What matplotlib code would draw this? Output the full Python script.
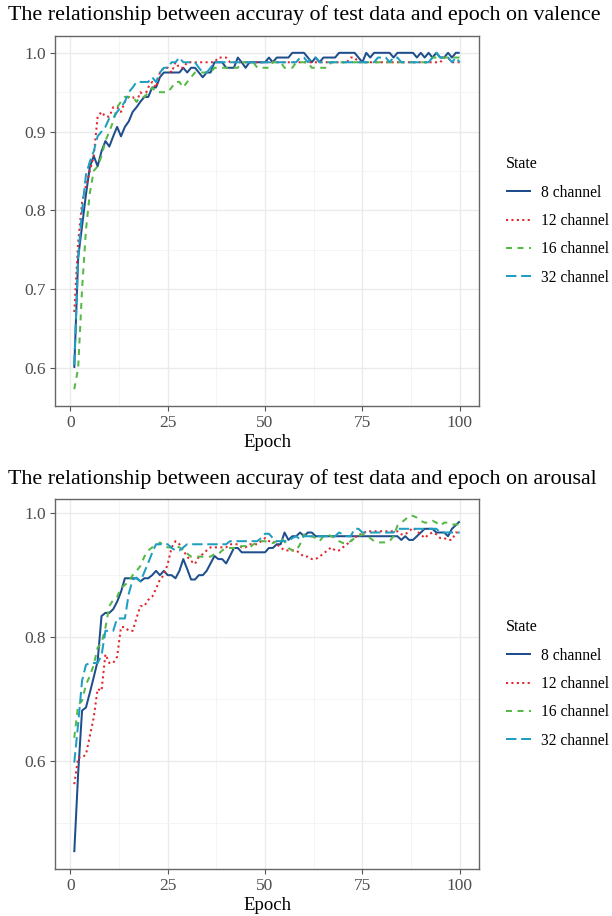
import numpy as np
import matplotlib
matplotlib.use("Agg")
import matplotlib.pyplot as plt
from matplotlib.ticker import MultipleLocator

plt.rcParams['font.family'] = ['Liberation Serif', 'DejaVu Serif']
plt.rcParams['lines.scale_dashes'] = False

epoch = np.arange(1, 101)
states = ['8 channel', '12 channel', '16 channel', '32 channel']

#---- valence accuracy
val_8 = [0.600, 0.740, 0.780, 0.820, 0.855, 0.869, 0.856, 0.875, 0.888, 0.881,
         0.894, 0.906, 0.894, 0.906, 0.913, 0.925, 0.931, 0.938, 0.944, 0.944,
         0.956, 0.956, 0.969, 0.975, 0.975, 0.975, 0.975, 0.975, 0.981, 0.975,
         0.981, 0.981, 0.975, 0.969, 0.975, 0.975, 0.988, 0.988, 0.988, 0.981,
         0.981, 0.981, 0.994, 0.988, 0.981, 0.988, 0.988, 0.988, 0.988, 0.988,
         0.994, 0.988, 0.994, 0.994, 0.994, 0.994, 1.000, 1.000, 1.000, 1.000,
         0.994, 0.988, 0.994, 0.988, 0.994, 0.994, 0.994, 0.994, 1.000, 1.000,
         1.000, 1.000, 1.000, 0.994, 0.988, 1.000, 0.994, 1.000, 1.000, 1.000,
         1.000, 1.000, 0.994, 1.000, 1.000, 1.000, 1.000, 1.000, 0.994, 1.000,
         0.994, 1.000, 0.994, 1.000, 0.994, 0.994, 1.000, 0.994, 1.000, 1.000]
val_12 = [0.671, 0.760, 0.810, 0.831, 0.850, 0.869, 0.919, 0.925, 0.919, 0.919,
          0.931, 0.931, 0.925, 0.938, 0.944, 0.944, 0.938, 0.950, 0.944, 0.956,
          0.963, 0.956, 0.975, 0.981, 0.981, 0.975, 0.988, 0.981, 0.981, 0.988,
          0.988, 0.988, 0.988, 0.988, 0.988, 0.988, 0.988, 0.994, 0.994, 0.994,
          0.988, 0.988, 0.988, 0.988, 0.988, 0.988, 0.988, 0.988, 0.988, 0.988,
          0.988, 0.988, 0.988, 0.988, 0.988, 0.988, 0.988, 0.988, 0.988, 0.988,
          0.988, 0.988, 0.988, 0.988, 0.988, 0.988, 0.988, 0.988, 0.988, 0.988,
          0.988, 0.994, 0.994, 0.988, 0.988, 0.988, 0.988, 0.988, 0.988, 0.988,
          0.988, 0.988, 0.988, 0.988, 0.988, 0.988, 0.988, 0.988, 0.988, 0.988,
          0.988, 0.988, 0.988, 0.988, 0.988, 0.994, 0.994, 0.988, 0.988, 0.988]
val_16 = [0.573, 0.600, 0.700, 0.775, 0.822, 0.850, 0.856, 0.869, 0.888, 0.900,
          0.913, 0.931, 0.938, 0.944, 0.944, 0.944, 0.938, 0.944, 0.944, 0.950,
          0.956, 0.950, 0.950, 0.950, 0.950, 0.956, 0.963, 0.963, 0.956, 0.963,
          0.969, 0.975, 0.975, 0.975, 0.975, 0.975, 0.981, 0.981, 0.981, 0.981,
          0.981, 0.981, 0.981, 0.988, 0.988, 0.988, 0.988, 0.981, 0.981, 0.981,
          0.981, 0.988, 0.988, 0.988, 0.981, 0.981, 0.981, 0.988, 0.988, 0.988,
          0.988, 0.981, 0.981, 0.981, 0.981, 0.981, 0.988, 0.988, 0.988, 0.988,
          0.988, 0.988, 0.988, 0.988, 0.988, 0.988, 0.988, 0.988, 0.988, 0.988,
          0.988, 0.988, 0.988, 0.988, 0.988, 0.988, 0.988, 0.988, 0.988, 0.988,
          0.988, 0.988, 0.994, 0.994, 0.994, 0.994, 0.994, 0.994, 0.994, 0.994]
val_32 = [0.604, 0.740, 0.800, 0.845, 0.862, 0.875, 0.894, 0.900, 0.906, 0.917,
          0.917, 0.925, 0.931, 0.938, 0.950, 0.956, 0.963, 0.963, 0.963, 0.963,
          0.969, 0.963, 0.975, 0.981, 0.981, 0.988, 0.988, 0.994, 0.988, 0.988,
          0.988, 0.988, 0.981, 0.975, 0.975, 0.981, 0.988, 0.988, 0.988, 0.988,
          0.988, 0.988, 0.988, 0.988, 0.988, 0.988, 0.988, 0.988, 0.988, 0.988,
          0.988, 0.988, 0.988, 0.988, 0.988, 0.988, 0.988, 0.988, 0.994, 0.994,
          0.988, 0.994, 0.994, 0.988, 0.988, 0.988, 0.988, 0.988, 0.988, 0.988,
          0.988, 0.988, 0.988, 0.988, 0.988, 0.988, 0.988, 0.988, 0.994, 0.994,
          0.994, 0.988, 0.994, 0.994, 0.988, 0.988, 0.988, 0.988, 0.988, 0.988,
          0.988, 0.988, 0.994, 1.000, 0.994, 0.994, 0.994, 0.988, 0.994, 0.988]

#---- arousal accuracy
aro_8 = [0.452, 0.580, 0.681, 0.686, 0.710, 0.735, 0.761, 0.834, 0.839, 0.839,
         0.845, 0.857, 0.873, 0.895, 0.895, 0.895, 0.895, 0.890, 0.895, 0.895,
         0.900, 0.907, 0.900, 0.907, 0.900, 0.900, 0.895, 0.907, 0.926, 0.910,
         0.893, 0.893, 0.900, 0.900, 0.907, 0.919, 0.931, 0.926, 0.926, 0.919,
         0.931, 0.944, 0.944, 0.937, 0.937, 0.937, 0.937, 0.937, 0.937, 0.937,
         0.944, 0.944, 0.950, 0.950, 0.969, 0.957, 0.963, 0.963, 0.969, 0.963,
         0.969, 0.969, 0.963, 0.963, 0.963, 0.963, 0.963, 0.963, 0.963, 0.963,
         0.963, 0.963, 0.963, 0.963, 0.963, 0.963, 0.963, 0.963, 0.963, 0.963,
         0.963, 0.963, 0.963, 0.963, 0.957, 0.963, 0.957, 0.957, 0.963, 0.969,
         0.975, 0.975, 0.975, 0.969, 0.969, 0.969, 0.963, 0.975, 0.981, 0.987]
aro_12 = [0.562, 0.605, 0.605, 0.610, 0.640, 0.670, 0.716, 0.713, 0.772, 0.758,
          0.758, 0.768, 0.816, 0.816, 0.810, 0.810, 0.831, 0.850, 0.850, 0.860,
          0.865, 0.878, 0.893, 0.900, 0.918, 0.945, 0.955, 0.950, 0.940, 0.930,
          0.923, 0.918, 0.930, 0.934, 0.940, 0.945, 0.945, 0.945, 0.945, 0.945,
          0.950, 0.950, 0.950, 0.945, 0.945, 0.950, 0.950, 0.950, 0.955, 0.960,
          0.955, 0.955, 0.950, 0.945, 0.940, 0.940, 0.940, 0.940, 0.935, 0.930,
          0.930, 0.926, 0.926, 0.930, 0.935, 0.940, 0.945, 0.940, 0.940, 0.945,
          0.950, 0.955, 0.960, 0.966, 0.966, 0.971, 0.971, 0.971, 0.971, 0.971,
          0.971, 0.971, 0.971, 0.971, 0.966, 0.966, 0.971, 0.977, 0.971, 0.966,
          0.960, 0.966, 0.969, 0.966, 0.960, 0.960, 0.957, 0.957, 0.969, 0.969]
aro_16 = [0.637, 0.690, 0.697, 0.723, 0.737, 0.755, 0.783, 0.790, 0.815, 0.850,
          0.860, 0.865, 0.880, 0.884, 0.890, 0.900, 0.907, 0.915, 0.930, 0.940,
          0.945, 0.945, 0.953, 0.947, 0.945, 0.945, 0.947, 0.945, 0.940, 0.935,
          0.930, 0.930, 0.930, 0.930, 0.930, 0.930, 0.934, 0.934, 0.940, 0.944,
          0.944, 0.944, 0.944, 0.947, 0.947, 0.944, 0.950, 0.952, 0.955, 0.955,
          0.952, 0.952, 0.955, 0.960, 0.955, 0.944, 0.940, 0.940, 0.950, 0.966,
          0.960, 0.963, 0.960, 0.955, 0.963, 0.966, 0.963, 0.960, 0.955, 0.952,
          0.952, 0.955, 0.960, 0.963, 0.966, 0.966, 0.960, 0.955, 0.953, 0.953,
          0.953, 0.955, 0.963, 0.980, 0.985, 0.990, 0.996, 0.996, 0.993, 0.988,
          0.985, 0.985, 0.988, 0.985, 0.980, 0.985, 0.985, 0.982, 0.982, 0.982]
aro_32 = [0.597, 0.660, 0.729, 0.755, 0.758, 0.758, 0.758, 0.770, 0.810, 0.810,
          0.810, 0.830, 0.830, 0.830, 0.870, 0.893, 0.896, 0.890, 0.905, 0.920,
          0.936, 0.950, 0.950, 0.950, 0.950, 0.944, 0.940, 0.940, 0.945, 0.950,
          0.950, 0.950, 0.950, 0.950, 0.950, 0.950, 0.950, 0.950, 0.950, 0.950,
          0.955, 0.955, 0.955, 0.955, 0.955, 0.955, 0.955, 0.955, 0.960, 0.967,
          0.967, 0.960, 0.955, 0.955, 0.955, 0.955, 0.960, 0.963, 0.958, 0.963,
          0.963, 0.963, 0.963, 0.963, 0.963, 0.963, 0.963, 0.963, 0.969, 0.966,
          0.963, 0.963, 0.975, 0.975, 0.969, 0.969, 0.969, 0.969, 0.969, 0.969,
          0.969, 0.969, 0.969, 0.975, 0.975, 0.975, 0.975, 0.975, 0.975, 0.975,
          0.975, 0.975, 0.975, 0.975, 0.969, 0.969, 0.969, 0.969, 0.969, 0.969]

colors = ['#1F4E8C', '#E3242B', '#56B947', '#1F9EC2']
dashes = [None, (1.5, 2.4), (4.3, 4.0), (7.5, 3.4)]

fig = plt.figure(figsize=(6.12, 9.16), dpi=100)
ax1 = fig.add_axes([55/612, 1-406/916, 424/612, 370/916])
ax2 = fig.add_axes([55/612, 1-869/916, 424/612, 370/916])

panels = [
    (ax1, [val_8, val_12, val_16, val_32], [0.6, 0.7, 0.8, 0.9, 1.0], 0.05,
     'The relationship between accuray of test data and epoch on valence', 1-15/916),
    (ax2, [aro_8, aro_12, aro_16, aro_32], [0.6, 0.8, 1.0], 0.1,
     'The relationship between accuray of test data and epoch on arousal', 1-479/916),
]

for ax, series, yt, ymin, title, ty in panels:
    for s, lab, c, d in zip(series, states, colors, dashes):
        ln, = ax.plot(epoch, s, color=c, lw=1.45, label=lab, solid_capstyle='butt')
        if d is not None:
            ln.set_dashes(d)
            ln.set_dash_capstyle('butt')
    allv = np.concatenate([np.array(s) for s in series])
    lo, hi = allv.min(), allv.max()
    pad = (hi - lo) * 0.05
    ax.set_ylim(lo - pad, hi + pad)
    ax.set_xlim(1 - 99*0.05, 100 + 99*0.05)
    ax.set_xticks([0, 25, 50, 75, 100])
    ax.xaxis.set_minor_locator(MultipleLocator(12.5))
    ax.set_yticks(yt)
    ax.yaxis.set_minor_locator(MultipleLocator(ymin))
    ax.set_yticklabels(['%.1f' % v for v in yt])
    ax.grid(which='major', color='#EBEBEB', lw=1.0)
    ax.grid(which='minor', color='#F3F3F3', lw=0.6)
    ax.set_axisbelow(True)
    ax.tick_params(which='major', length=3.5, width=0.8, color='#555555',
                   labelsize=12.5, labelcolor='#4D4D4D', pad=3)
    ax.tick_params(which='minor', length=0)
    for sp in ax.spines.values():
        sp.set_color('#666666')
        sp.set_linewidth(1.0)
    ax.set_xlabel('Epoch', fontsize=13.5, labelpad=2)
    fig.text(8/612, ty, title, fontsize=15.8, ha='left', va='center')
    leg = ax.legend(title='State', loc='center left', bbox_to_anchor=(1.03, 0.5),
                    frameon=False, fontsize=11.2, title_fontsize=11.5,
                    handlelength=1.6, handletextpad=0.7, labelspacing=0.8,
                    alignment='left')

fig.savefig('out.png', dpi=100)
